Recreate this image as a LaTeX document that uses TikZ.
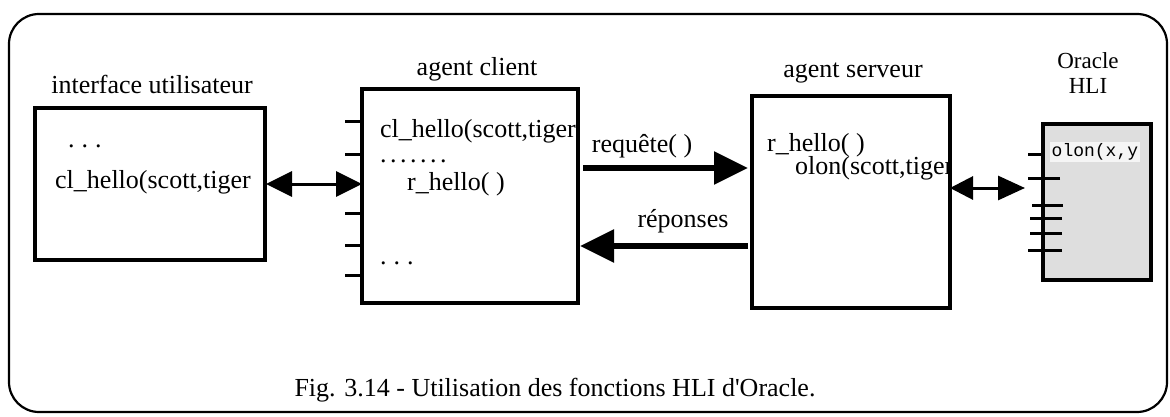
\documentclass[tikz,border=0pt]{standalone}
\usepackage{fontspec}
\setmainfont{Liberation Serif}[Ligatures=TeXOff]
\newfontfamily\monofont{Liberation Mono}
\usetikzlibrary{arrows.meta}
\tikzset{
  box/.style={draw, line width=3.5pt, inner sep=0pt, outer sep=0pt},
  txt/.style={anchor=base west, inner sep=0pt, font=\fontsize{26}{30}\selectfont},
  lbl/.style={anchor=base, inner sep=0pt, font=\fontsize{26}{30}\selectfont},
  tick/.style={line width=3pt},
  dbl/.style={line width=3pt, {Triangle[length=26pt,width=25pt]}-{Triangle[length=26pt,width=25pt]}},
  big/.style={line width=5.5pt, -{Triangle[length=34pt,width=32pt]}},
}
\begin{document}
\begin{tikzpicture}[x=1pt,y=-1pt]
\useasboundingbox (0,0) rectangle (1170,417);
% frame
\draw[line width=2.2pt, rounded corners=30pt] (9,14) rectangle (1167,412);
% boxes
\node[box, minimum width=230pt, minimum height=152pt] (iface) at (150,184) {};
\node[box, minimum width=216pt, minimum height=214pt] (client) at (470,196) {};
\node[box, minimum width=198pt, minimum height=212pt] (server) at (851,202) {};
\node[box, fill=black!13, minimum width=108pt, minimum height=156pt] (oracle) at (1097,202) {};
% titles
\node[lbl] (tiface) at (152,94) {interface utilisateur};
\node[lbl] (tclient) at (477,76) {agent client};
\node[lbl] (tserver) at (853,78) {agent serveur};
\node[anchor=base, inner sep=0pt, align=center, font=\fontsize{23}{25}\selectfont] (toracle) at (1088,94) {Oracle\\HLI};
% interface texts
\node[txt] (i1) at (68,147) {.\kern7pt.\kern7pt.};
\node[txt] (i2) at (55,189) {cl\_hello(scott,tiger};
% client texts
\begin{scope}
\clip (client.south west) rectangle (client.north east);
\node[txt] (c1) at (380,138) {cl\_hello(scott,tiger)};
\end{scope}
\node[txt] (c2) at (380,162) {.\kern3.5pt.\kern3.5pt.\kern3.5pt.\kern3.5pt.\kern3.5pt.\kern3.5pt.};
\node[txt] (c3) at (407,190) {r\_hello( )};
\node[txt] (c4) at (380,264) {.\kern7pt.\kern7pt.};
% server texts
\node[txt] (s1) at (767,152) {r\_hello( )};
\begin{scope}
\clip (server.south west) rectangle (server.north east);
\node[txt] (s2) at (795,175) {olon(scott,tiger)};
\end{scope}
% oracle text
\node[anchor=base west, inner sep=1.5pt, fill=black!4, font=\monofont\fontsize{18}{20}\selectfont] (o1) at (1050,157) {olon(x,y};
\draw[box, draw=black, fill=none] (oracle.south west) rectangle (oracle.north east);
% ticks client
\foreach \d in {74,41,-17,-49,-79}
  \draw[tick] ([yshift=\d pt]client.west) -- ++(-17,0);
% ticks oracle
\draw[tick] ([yshift=47pt]oracle.west) -- ++(-15,0);
\draw[tick] ([yshift=24pt,xshift=17pt]oracle.west) -- ++(-32,0);
\draw[tick] ([yshift=-3pt,xshift=20pt]oracle.west) -- ++(-31,0);
\draw[tick] ([yshift=-16pt,xshift=19pt]oracle.west) -- ++(-32,0);
\draw[tick] ([yshift=-31pt,xshift=19pt]oracle.west) -- ++(-32,0);
\draw[tick] ([yshift=-48pt,xshift=19pt]oracle.west) -- ++(-34,0);
% connectors
\draw[dbl, shorten <=1pt] (iface.east) -- (iface.east -| client.west);
\draw[big, shorten <=5pt, shorten >=4pt] ([yshift=28pt]client.east) -- ([yshift=28pt]client.east -| server.west);
\draw[big, shorten <=4pt, shorten >=2pt] ([yshift=-44pt]server.west) -- ([yshift=-44pt]server.west -| client.east);
\draw[line width=3pt, {Triangle[length=23pt,width=23pt]}-{Triangle[length=27pt,width=24pt]}, shorten >=18pt] ([yshift=14pt]server.east) -- ([yshift=14pt]server.east -| oracle.west);
% arrow labels
\node[lbl] (treq) at (642,153) {requête( )};
\node[lbl] (trep) at (683,227) {réponses};
% caption
\node[lbl] (cap) at (555,396) {Fig. 3.14 - Utilisation des fonctions HLI d'Oracle.};
\end{tikzpicture}
\end{document}
